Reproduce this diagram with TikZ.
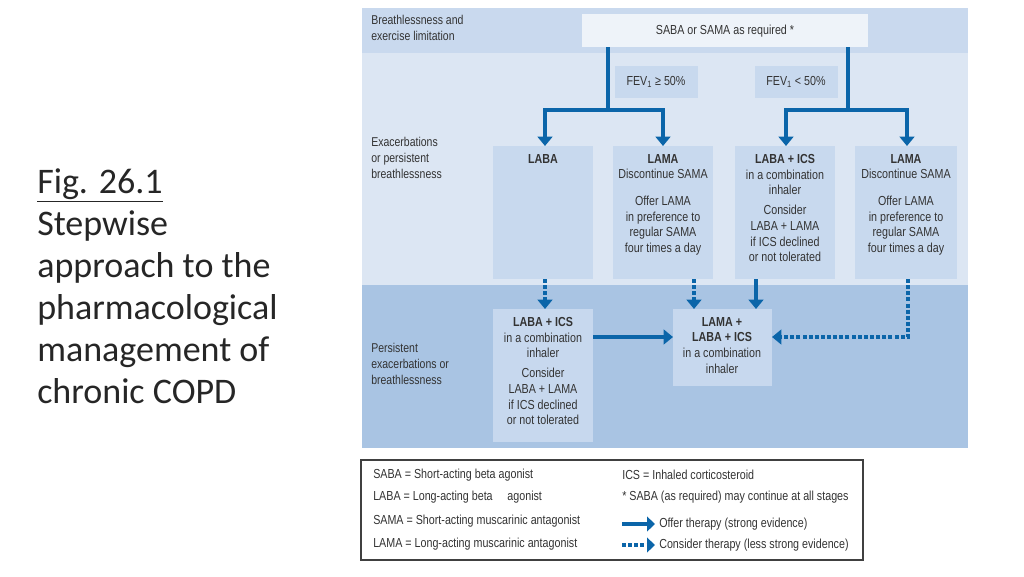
\documentclass[tikz,border=0pt]{standalone}
\usepackage{fontspec}
\setmainfont{Carlito}
\newfontfamily\nar{Liberation Sans}[FakeStretch=0.82]
\usetikzlibrary{arrows.meta}
\definecolor{bandA}{HTML}{C9D9EE}
\definecolor{bandB}{HTML}{DCE6F3}
\definecolor{bandC}{HTML}{A9C4E3}
\definecolor{boxL}{HTML}{C8D9EE}
\definecolor{boxC}{HTML}{C7D8EE}
\definecolor{topbox}{HTML}{EEF3F9}
\definecolor{arr}{HTML}{0B65A9}
\definecolor{txt}{HTML}{333333}
\tikzset{
 lab/.style={font=\nar\fontsize{9.6}{11.8}\selectfont, text=txt, align=left, anchor=north west, inner sep=0pt},
 btx/.style={font=\nar\fontsize{9.8}{11.8}\selectfont, text=txt, align=center, anchor=north, inner sep=0pt},
 strong/.style={draw=arr, line width=3.6pt, -{Triangle[width=11pt,length=7pt]}},
 weak/.style={draw=arr, line width=3.6pt, dash pattern=on 3pt off 1.6pt, -{Triangle[width=11pt,length=7pt]}},
 leg/.style={font=\nar\fontsize{9.8}{10}\selectfont, text=txt, anchor=west, inner sep=0pt}
}
\begin{document}
\begin{tikzpicture}[x=0.75pt,y=-0.75pt]
\useasboundingbox (0,0) rectangle (1024,576);
% title
\node[anchor=north west, align=left, inner sep=0pt, font=\fontsize{27}{31.5}\selectfont, text=black!85] (title) at (37,168)
 {\underline{Fig. 26.1}\\Stepwise\\approach to the\\pharmacological\\management of\\chronic COPD};
% bands
\fill[bandA] (362,8) rectangle (968,53);
\fill[bandB] (362,53) rectangle (968,285);
\fill[bandC] (362,285) rectangle (968,448);
\node[lab] (l1) at (371,15) {Breathlessness and\\exercise limitation};
\node[lab] (l2) at (371,137) {Exacerbations\\or persistent\\breathlessness};
\node[lab] (l3) at (371,343) {Persistent\\exacerbations or\\breathlessness};
% top box
\fill[topbox] (582,14) rectangle (868,47);
\node[btx, anchor=center] (saba) at (725,31) {SABA or SAMA as required *};
\coordinate (sabaL) at (608,47);
\coordinate (sabaR) at (848,47);
% FEV boxes
\fill[boxL] (615,66) rectangle (698,98);
\node[btx, anchor=center] (fevA) at (656,82) {FEV\textsubscript{1} \char"2265\ 50\%};
\fill[boxL] (755,66) rectangle (838,98);
\node[btx, anchor=center] (fevB) at (796,82) {FEV\textsubscript{1} < 50\%};
% row 2 boxes
\fill[boxL] (493,146) rectangle (593,279);
\fill[boxL] (613,146) rectangle (713,279);
\fill[boxL] (735,146) rectangle (835,279);
\fill[boxL] (855,146) rectangle (957,279);
\coordinate (b1) at (545,146); \coordinate (b1s) at (545,279);
\coordinate (b2) at (663,146); \coordinate (b2s) at (694,279);
\coordinate (b3) at (786,146); \coordinate (b3s) at (756,279);
\coordinate (b4) at (907,146); \coordinate (b4s) at (908,279);
\node[btx] (t1) at (543,154) {\textbf{LABA}};
\node[btx] (t2) at (663,154) {\textbf{LAMA}\\Discontinue SAMA\\[8pt]Offer LAMA\\in preference to\\regular SAMA\\four times a day};
\node[btx] (t3) at (785,154) {\textbf{LABA + ICS}\\in a combination\\inhaler\\[3pt]Consider\\LABA + LAMA\\if ICS declined\\or not tolerated};
\node[btx] (t4) at (906,154) {\textbf{LAMA}\\Discontinue SAMA\\[8pt]Offer LAMA\\in preference to\\regular SAMA\\four times a day};
% row 3 boxes
\fill[boxC] (493,309) rectangle (593,442);
\fill[boxC] (673,309) rectangle (772,386);
\node[btx] (t5) at (543,317) {\textbf{LABA + ICS}\\in a combination\\inhaler\\[3pt]Consider\\LABA + LAMA\\if ICS declined\\or not tolerated};
\node[btx] (t6) at (722,317) {\textbf{LAMA +}\\\textbf{LABA + ICS}\\in a combination\\inhaler};
\coordinate (c1) at (545,309); \coordinate (c1r) at (593,337);
\coordinate (c2a) at (694,309); \coordinate (c2b) at (756,309);
\coordinate (c2l) at (673,337); \coordinate (c2r) at (772,337);
% arrows
\draw[strong] (sabaL) -- (608,110) -| (b1);
\draw[strong] (608,110) -| (b2);
\draw[strong] (sabaR) -- (848,110) -| (b3);
\draw[strong] (848,110) -| (b4);
\draw[weak] (b1s) -- (c1);
\draw[weak] (b2s) -- (c2a);
\draw[strong] (b3s) -- (c2b);
\draw[strong] (c1r) -- (c2l);
\draw[weak] (b4s) |- (c2r);
% legend
\draw[draw=black!75, line width=0.8pt, fill=white] (361,460) rectangle (863,560);
\node[leg] (g1) at (373,475) {SABA = Short-acting beta agonist};
\node[leg] (g2) at (373,497) {LABA = Long-acting beta\hspace{0.9em} agonist};
\node[leg] (g3) at (373,521) {SAMA = Short-acting muscarinic antagonist};
\node[leg] (g4) at (373,544) {LAMA = Long-acting muscarinic antagonist};
\node[leg] (g5) at (622,475) {ICS = Inhaled corticosteroid};
\node[leg] (g6) at (622,497) {* SABA (as required) may continue at all stages};
\coordinate (a1) at (622,524); \coordinate (a1e) at (655,524);
\coordinate (a2) at (622,545); \coordinate (a2e) at (655,545);
\draw[strong, -{Triangle[width=11pt,length=6pt]}] (a1) -- (a1e);
\draw[weak, -{Triangle[width=11pt,length=6pt]}] (a2) -- (a2e);
\node[leg] (g7) at (659,524) {Offer therapy (strong evidence)};
\node[leg] (g8) at (659,545) {Consider therapy (less strong evidence)};
\end{tikzpicture}
\end{document}
